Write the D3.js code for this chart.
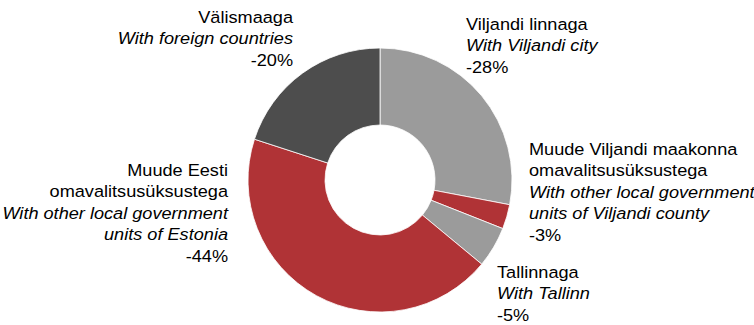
<!DOCTYPE html>
<html>
<head>
<meta charset="utf-8">
<script src="https://cdn.jsdelivr.net/npm/d3@7"></script>
<style>
  html, body { margin: 0; padding: 0; background: #fff; }
  svg { display: block; }
  text { font-family: "Liberation Sans", Arial, sans-serif; font-size: 16.5px; fill: #000; }
</style>
</head>
<body>
<svg id="chart" width="754" height="325"></svg>
<script>
// Categories (Estonian name, English name) and their shares, in drawing order clockwise from 12 o'clock
const namesEt = [
  ["Viljandi linnaga"],
  ["Muude Viljandi maakonna", "omavalitsusüksustega"],
  ["Tallinnaga"],
  ["Muude Eesti", "omavalitsusüksustega"],
  ["Välismaaga"]
];
const namesEn = [
  ["With Viljandi city"],
  ["With other local government", "units of Viljandi county"],
  ["With Tallinn"],
  ["With other local government", "units of Estonia"],
  ["With foreign countries"]
];
const values = [-28, -3, -5, -44, -20];
const colors = ["#9b9b9b", "#b03336", "#9b9b9b", "#b03336", "#4d4d4d"];

// Label block placement: anchor x, first baseline and alignment
const labelLayout = [
  { x: 466, y: 30,  anchor: "start" },
  { x: 529, y: 155, anchor: "start" },
  { x: 497, y: 278, anchor: "start" },
  { x: 228, y: 176, anchor: "end" },
  { x: 293, y: 23,  anchor: "end" }
];

const svg = d3.select("#chart");
const cx = 380, cy = 180, outerR = 132, innerR = 55;
const lineH = 21.4;
const stretchX = 1.1;   // slightly widened lettering

const pie = d3.pie().sort(null).value(d => Math.abs(d));
const arc = d3.arc().innerRadius(innerR).outerRadius(outerR);

const g = svg.append("g").attr("transform", `translate(${cx},${cy})`);
g.selectAll("path")
  .data(pie(values))
  .join("path")
  .attr("d", arc)
  .attr("fill", (d, i) => colors[i])
  .attr("stroke", "#fff")
  .attr("stroke-width", 0.8);

const fmt = v => `${v}%`;

values.forEach((v, i) => {
  const L = labelLayout[i];
  const lines = [];
  namesEt[i].forEach(t => lines.push({ t, it: false }));
  namesEn[i].forEach(t => lines.push({ t, it: true }));
  lines.push({ t: fmt(v), it: false });
  const txt = svg.append("text")
    .attr("text-anchor", L.anchor)
    .attr("transform", `translate(${L.x},0) scale(${stretchX},1)`);
  lines.forEach((ln, k) => {
    txt.append("tspan")
      .attr("x", 0)
      .attr("y", L.y + k * lineH)
      .style("font-style", ln.it ? "italic" : "normal")
      .text(ln.t);
  });
});
</script>
</body>
</html>
